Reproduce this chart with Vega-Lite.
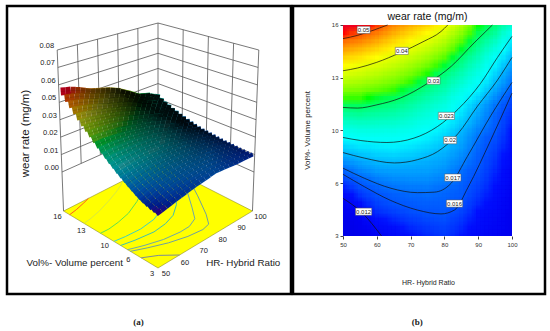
{"$schema":"https://vega.github.io/schema/vega-lite/v6.json","background":"white","padding":{"left":5,"top":4,"right":0,"bottom":0},"spacing":-2,"config":{"view":{"stroke":"black","strokeWidth":2.5},"font":"Liberation Sans","axis":{"grid":false}},
"datasets":{
"cont":[
{"l":0.05,"h":50,"v":15.16},{"l":0.05,"h":54.3,"v":15.36},{"l":0.05,"h":59.3,"v":15.7},{"l":0.05,"h":63.2,"v":16},
{"l":0.04,"h":50,"v":13.18},{"l":0.04,"h":54.3,"v":13.35},{"l":0.04,"h":60,"v":13.7},{"l":0.04,"h":67,"v":14.3},{"l":0.04,"h":74,"v":15},{"l":0.04,"h":79,"v":15.6},{"l":0.04,"h":81,"v":16},
{"l":0.03,"h":50,"v":10.92},{"l":0.03,"h":54.3,"v":10.88},{"l":0.03,"h":60,"v":11.08},{"l":0.03,"h":67,"v":11.5},{"l":0.03,"h":75,"v":12.4},{"l":0.03,"h":82,"v":13.45},{"l":0.03,"h":88.8,"v":14.9},{"l":0.03,"h":94.2,"v":16},
{"l":0.023,"h":50,"v":9.07},{"l":0.023,"h":55.3,"v":8.88},{"l":0.023,"h":63,"v":8.76},{"l":0.023,"h":71,"v":9.03},{"l":0.023,"h":78,"v":9.75},{"l":0.023,"h":84,"v":10.8},{"l":0.023,"h":90.7,"v":12.4},{"l":0.023,"h":95.7,"v":14},{"l":0.023,"h":100,"v":15.3},
{"l":0.02,"h":50,"v":8.14},{"l":0.02,"h":56.3,"v":7.8},{"l":0.02,"h":65.2,"v":7.5},{"l":0.02,"h":72,"v":7.7},{"l":0.02,"h":78,"v":8.2},{"l":0.02,"h":84,"v":9.3},{"l":0.02,"h":89.8,"v":11},{"l":0.02,"h":95.7,"v":12.6},{"l":0.02,"h":100,"v":14},
{"l":0.017,"h":50,"v":7.18},{"l":0.017,"h":56.3,"v":6.56},{"l":0.017,"h":64.2,"v":5.94},{"l":0.017,"h":72,"v":5.67},{"l":0.017,"h":77,"v":5.7},{"l":0.017,"h":82,"v":6.25},{"l":0.017,"h":86.8,"v":7.9},{"l":0.017,"h":93.7,"v":10.4},{"l":0.017,"h":100,"v":12.46},
{"l":0.016,"h":50,"v":6.8},{"l":0.016,"h":56.3,"v":6.04},{"l":0.016,"h":64,"v":5.2},{"l":0.016,"h":72,"v":4.6},{"l":0.016,"h":79,"v":4.36},{"l":0.016,"h":83,"v":4.6},{"l":0.016,"h":87,"v":6},{"l":0.016,"h":93.7,"v":8.9},{"l":0.016,"h":100,"v":11.8},
{"l":0.012,"h":50,"v":5.32},{"l":0.012,"h":55.8,"v":4.4},{"l":0.012,"h":61.4,"v":3}],
"grid":[
{"h":50,"v":3,"w":0.0095},{"h":50,"v":3.5,"w":0.01},{"h":50,"v":4,"w":0.0104},{"h":50,"v":4.5,"w":0.011},{"h":50,"v":5,"w":0.0116},{"h":50,"v":5.5,"w":0.0125},{"h":50,"v":6,"w":0.0138},{"h":50,"v":6.5,"w":0.0152},{"h":50,"v":7,"w":0.0165},{"h":50,"v":7.5,"w":0.018},{"h":50,"v":8,"w":0.0196},{"h":50,"v":8.5,"w":0.0211},{"h":50,"v":9,"w":0.0228},{"h":50,"v":9.5,"w":0.0246},{"h":50,"v":10,"w":0.0265},{"h":50,"v":10.5,"w":0.0284},{"h":50,"v":11,"w":0.0304},{"h":50,"v":11.5,"w":0.0326},{"h":50,"v":12,"w":0.0348},{"h":50,"v":12.5,"w":0.037},{"h":50,"v":13,"w":0.0392},{"h":50,"v":13.5,"w":0.0416},{"h":50,"v":14,"w":0.044},{"h":50,"v":14.5,"w":0.0467},{"h":50,"v":15,"w":0.0492},{"h":50,"v":15.5,"w":0.052},{"h":50,"v":16,"w":0.055},
{"h":52.5,"v":3,"w":0.01},{"h":52.5,"v":3.5,"w":0.0105},{"h":52.5,"v":4,"w":0.0109},{"h":52.5,"v":4.5,"w":0.0115},{"h":52.5,"v":5,"w":0.0124},{"h":52.5,"v":5.5,"w":0.0134},{"h":52.5,"v":6,"w":0.0147},{"h":52.5,"v":6.5,"w":0.0159},{"h":52.5,"v":7,"w":0.0171},{"h":52.5,"v":7.5,"w":0.0185},{"h":52.5,"v":8,"w":0.02},{"h":52.5,"v":8.5,"w":0.0215},{"h":52.5,"v":9,"w":0.0231},{"h":52.5,"v":9.5,"w":0.0248},{"h":52.5,"v":10,"w":0.0267},{"h":52.5,"v":10.5,"w":0.0285},{"h":52.5,"v":11,"w":0.0304},{"h":52.5,"v":11.5,"w":0.0325},{"h":52.5,"v":12,"w":0.0346},{"h":52.5,"v":12.5,"w":0.0367},{"h":52.5,"v":13,"w":0.0388},{"h":52.5,"v":13.5,"w":0.041},{"h":52.5,"v":14,"w":0.0435},{"h":52.5,"v":14.5,"w":0.0461},{"h":52.5,"v":15,"w":0.0486},{"h":52.5,"v":15.5,"w":0.0512},{"h":52.5,"v":16,"w":0.0542},
{"h":55,"v":3,"w":0.0105},{"h":55,"v":3.5,"w":0.011},{"h":55,"v":4,"w":0.0114},{"h":55,"v":4.5,"w":0.012},{"h":55,"v":5,"w":0.0132},{"h":55,"v":5.5,"w":0.0144},{"h":55,"v":6,"w":0.0156},{"h":55,"v":6.5,"w":0.0166},{"h":55,"v":7,"w":0.0178},{"h":55,"v":7.5,"w":0.019},{"h":55,"v":8,"w":0.0204},{"h":55,"v":8.5,"w":0.0219},{"h":55,"v":9,"w":0.0234},{"h":55,"v":9.5,"w":0.0251},{"h":55,"v":10,"w":0.0269},{"h":55,"v":10.5,"w":0.0287},{"h":55,"v":11,"w":0.0305},{"h":55,"v":11.5,"w":0.0325},{"h":55,"v":12,"w":0.0344},{"h":55,"v":12.5,"w":0.0364},{"h":55,"v":13,"w":0.0384},{"h":55,"v":13.5,"w":0.0405},{"h":55,"v":14,"w":0.043},{"h":55,"v":14.5,"w":0.0455},{"h":55,"v":15,"w":0.048},{"h":55,"v":15.5,"w":0.0505},{"h":55,"v":16,"w":0.0535},
{"h":57.5,"v":3,"w":0.0111},{"h":57.5,"v":3.5,"w":0.0117},{"h":57.5,"v":4,"w":0.0123},{"h":57.5,"v":4.5,"w":0.0131},{"h":57.5,"v":5,"w":0.0141},{"h":57.5,"v":5.5,"w":0.0151},{"h":57.5,"v":6,"w":0.0161},{"h":57.5,"v":6.5,"w":0.017},{"h":57.5,"v":7,"w":0.0182},{"h":57.5,"v":7.5,"w":0.0194},{"h":57.5,"v":8,"w":0.0207},{"h":57.5,"v":8.5,"w":0.022},{"h":57.5,"v":9,"w":0.0235},{"h":57.5,"v":9.5,"w":0.0251},{"h":57.5,"v":10,"w":0.0268},{"h":57.5,"v":10.5,"w":0.0284},{"h":57.5,"v":11,"w":0.0301},{"h":57.5,"v":11.5,"w":0.032},{"h":57.5,"v":12,"w":0.0339},{"h":57.5,"v":12.5,"w":0.0359},{"h":57.5,"v":13,"w":0.0378},{"h":57.5,"v":13.5,"w":0.0398},{"h":57.5,"v":14,"w":0.0422},{"h":57.5,"v":14.5,"w":0.0446},{"h":57.5,"v":15,"w":0.0471},{"h":57.5,"v":15.5,"w":0.0495},{"h":57.5,"v":16,"w":0.0522},
{"h":60,"v":3,"w":0.0117},{"h":60,"v":3.5,"w":0.0125},{"h":60,"v":4,"w":0.0133},{"h":60,"v":4.5,"w":0.0142},{"h":60,"v":5,"w":0.015},{"h":60,"v":5.5,"w":0.0158},{"h":60,"v":6,"w":0.0166},{"h":60,"v":6.5,"w":0.0175},{"h":60,"v":7,"w":0.0187},{"h":60,"v":7.5,"w":0.0198},{"h":60,"v":8,"w":0.021},{"h":60,"v":8.5,"w":0.0222},{"h":60,"v":9,"w":0.0236},{"h":60,"v":9.5,"w":0.0251},{"h":60,"v":10,"w":0.0267},{"h":60,"v":10.5,"w":0.0282},{"h":60,"v":11,"w":0.0298},{"h":60,"v":11.5,"w":0.0316},{"h":60,"v":12,"w":0.0335},{"h":60,"v":12.5,"w":0.0354},{"h":60,"v":13,"w":0.0373},{"h":60,"v":13.5,"w":0.0392},{"h":60,"v":14,"w":0.0414},{"h":60,"v":14.5,"w":0.0438},{"h":60,"v":15,"w":0.0462},{"h":60,"v":15.5,"w":0.0486},{"h":60,"v":16,"w":0.051},
{"h":62.5,"v":3,"w":0.0121},{"h":62.5,"v":3.5,"w":0.0128},{"h":62.5,"v":4,"w":0.0136},{"h":62.5,"v":4.5,"w":0.0146},{"h":62.5,"v":5,"w":0.0154},{"h":62.5,"v":5.5,"w":0.0161},{"h":62.5,"v":6,"w":0.0169},{"h":62.5,"v":6.5,"w":0.0178},{"h":62.5,"v":7,"w":0.0188},{"h":62.5,"v":7.5,"w":0.0199},{"h":62.5,"v":8,"w":0.0211},{"h":62.5,"v":8.5,"w":0.0223},{"h":62.5,"v":9,"w":0.0236},{"h":62.5,"v":9.5,"w":0.025},{"h":62.5,"v":10,"w":0.0265},{"h":62.5,"v":10.5,"w":0.028},{"h":62.5,"v":11,"w":0.0295},{"h":62.5,"v":11.5,"w":0.0311},{"h":62.5,"v":12,"w":0.033},{"h":62.5,"v":12.5,"w":0.0348},{"h":62.5,"v":13,"w":0.0366},{"h":62.5,"v":13.5,"w":0.0385},{"h":62.5,"v":14,"w":0.0405},{"h":62.5,"v":14.5,"w":0.0428},{"h":62.5,"v":15,"w":0.045},{"h":62.5,"v":15.5,"w":0.0473},{"h":62.5,"v":16,"w":0.0495},
{"h":65,"v":3,"w":0.0126},{"h":65,"v":3.5,"w":0.0132},{"h":65,"v":4,"w":0.014},{"h":65,"v":4.5,"w":0.015},{"h":65,"v":5,"w":0.0159},{"h":65,"v":5.5,"w":0.0165},{"h":65,"v":6,"w":0.0172},{"h":65,"v":6.5,"w":0.0181},{"h":65,"v":7,"w":0.019},{"h":65,"v":7.5,"w":0.02},{"h":65,"v":8,"w":0.0212},{"h":65,"v":8.5,"w":0.0224},{"h":65,"v":9,"w":0.0237},{"h":65,"v":9.5,"w":0.025},{"h":65,"v":10,"w":0.0264},{"h":65,"v":10.5,"w":0.0278},{"h":65,"v":11,"w":0.0292},{"h":65,"v":11.5,"w":0.0307},{"h":65,"v":12,"w":0.0325},{"h":65,"v":12.5,"w":0.0343},{"h":65,"v":13,"w":0.036},{"h":65,"v":13.5,"w":0.0379},{"h":65,"v":14,"w":0.0396},{"h":65,"v":14.5,"w":0.0418},{"h":65,"v":15,"w":0.0438},{"h":65,"v":15.5,"w":0.046},{"h":65,"v":16,"w":0.048},
{"h":67.5,"v":3,"w":0.013},{"h":67.5,"v":3.5,"w":0.0136},{"h":67.5,"v":4,"w":0.0144},{"h":67.5,"v":4.5,"w":0.0153},{"h":67.5,"v":5,"w":0.0161},{"h":67.5,"v":5.5,"w":0.0166},{"h":67.5,"v":6,"w":0.0173},{"h":67.5,"v":6.5,"w":0.0181},{"h":67.5,"v":7,"w":0.019},{"h":67.5,"v":7.5,"w":0.0199},{"h":67.5,"v":8,"w":0.021},{"h":67.5,"v":8.5,"w":0.0222},{"h":67.5,"v":9,"w":0.0234},{"h":67.5,"v":9.5,"w":0.0246},{"h":67.5,"v":10,"w":0.026},{"h":67.5,"v":10.5,"w":0.0273},{"h":67.5,"v":11,"w":0.0286},{"h":67.5,"v":11.5,"w":0.03},{"h":67.5,"v":12,"w":0.0316},{"h":67.5,"v":12.5,"w":0.0334},{"h":67.5,"v":13,"w":0.0351},{"h":67.5,"v":13.5,"w":0.0369},{"h":67.5,"v":14,"w":0.0387},{"h":67.5,"v":14.5,"w":0.0407},{"h":67.5,"v":15,"w":0.0427},{"h":67.5,"v":15.5,"w":0.0449},{"h":67.5,"v":16,"w":0.047},
{"h":70,"v":3,"w":0.0134},{"h":70,"v":3.5,"w":0.014},{"h":70,"v":4,"w":0.0148},{"h":70,"v":4.5,"w":0.0156},{"h":70,"v":5,"w":0.0163},{"h":70,"v":5.5,"w":0.0168},{"h":70,"v":6,"w":0.0174},{"h":70,"v":6.5,"w":0.0182},{"h":70,"v":7,"w":0.019},{"h":70,"v":7.5,"w":0.0198},{"h":70,"v":8,"w":0.0209},{"h":70,"v":8.5,"w":0.022},{"h":70,"v":9,"w":0.0231},{"h":70,"v":9.5,"w":0.0243},{"h":70,"v":10,"w":0.0256},{"h":70,"v":10.5,"w":0.0268},{"h":70,"v":11,"w":0.028},{"h":70,"v":11.5,"w":0.0293},{"h":70,"v":12,"w":0.0307},{"h":70,"v":12.5,"w":0.0325},{"h":70,"v":13,"w":0.0343},{"h":70,"v":13.5,"w":0.036},{"h":70,"v":14,"w":0.0379},{"h":70,"v":14.5,"w":0.0396},{"h":70,"v":15,"w":0.0417},{"h":70,"v":15.5,"w":0.0438},{"h":70,"v":16,"w":0.046},
{"h":72.5,"v":3,"w":0.0137},{"h":72.5,"v":3.5,"w":0.0143},{"h":72.5,"v":4,"w":0.015},{"h":72.5,"v":4.5,"w":0.0158},{"h":72.5,"v":5,"w":0.0164},{"h":72.5,"v":5.5,"w":0.0168},{"h":72.5,"v":6,"w":0.0174},{"h":72.5,"v":6.5,"w":0.0182},{"h":72.5,"v":7,"w":0.0189},{"h":72.5,"v":7.5,"w":0.0196},{"h":72.5,"v":8,"w":0.0206},{"h":72.5,"v":8.5,"w":0.0216},{"h":72.5,"v":9,"w":0.0227},{"h":72.5,"v":9.5,"w":0.0238},{"h":72.5,"v":10,"w":0.025},{"h":72.5,"v":10.5,"w":0.0262},{"h":72.5,"v":11,"w":0.0273},{"h":72.5,"v":11.5,"w":0.0286},{"h":72.5,"v":12,"w":0.0299},{"h":72.5,"v":12.5,"w":0.0314},{"h":72.5,"v":13,"w":0.0332},{"h":72.5,"v":13.5,"w":0.035},{"h":72.5,"v":14,"w":0.0369},{"h":72.5,"v":14.5,"w":0.0387},{"h":72.5,"v":15,"w":0.0406},{"h":72.5,"v":15.5,"w":0.0427},{"h":72.5,"v":16,"w":0.045},
{"h":75,"v":3,"w":0.014},{"h":75,"v":3.5,"w":0.0146},{"h":75,"v":4,"w":0.0153},{"h":75,"v":4.5,"w":0.016},{"h":75,"v":5,"w":0.0165},{"h":75,"v":5.5,"w":0.0169},{"h":75,"v":6,"w":0.0175},{"h":75,"v":6.5,"w":0.0182},{"h":75,"v":7,"w":0.0189},{"h":75,"v":7.5,"w":0.0195},{"h":75,"v":8,"w":0.0203},{"h":75,"v":8.5,"w":0.0213},{"h":75,"v":9,"w":0.0223},{"h":75,"v":9.5,"w":0.0233},{"h":75,"v":10,"w":0.0245},{"h":75,"v":10.5,"w":0.0256},{"h":75,"v":11,"w":0.0267},{"h":75,"v":11.5,"w":0.0279},{"h":75,"v":12,"w":0.0291},{"h":75,"v":12.5,"w":0.0304},{"h":75,"v":13,"w":0.0322},{"h":75,"v":13.5,"w":0.034},{"h":75,"v":14,"w":0.0359},{"h":75,"v":14.5,"w":0.0378},{"h":75,"v":15,"w":0.0396},{"h":75,"v":15.5,"w":0.0416},{"h":75,"v":16,"w":0.044},
{"h":77.5,"v":3,"w":0.0143},{"h":77.5,"v":3.5,"w":0.0148},{"h":77.5,"v":4,"w":0.0154},{"h":77.5,"v":4.5,"w":0.016},{"h":77.5,"v":5,"w":0.0164},{"h":77.5,"v":5.5,"w":0.0168},{"h":77.5,"v":6,"w":0.0172},{"h":77.5,"v":6.5,"w":0.0179},{"h":77.5,"v":7,"w":0.0186},{"h":77.5,"v":7.5,"w":0.0192},{"h":77.5,"v":8,"w":0.0199},{"h":77.5,"v":8.5,"w":0.0208},{"h":77.5,"v":9,"w":0.0217},{"h":77.5,"v":9.5,"w":0.0226},{"h":77.5,"v":10,"w":0.0237},{"h":77.5,"v":10.5,"w":0.0248},{"h":77.5,"v":11,"w":0.0259},{"h":77.5,"v":11.5,"w":0.0271},{"h":77.5,"v":12,"w":0.0283},{"h":77.5,"v":12.5,"w":0.0295},{"h":77.5,"v":13,"w":0.031},{"h":77.5,"v":13.5,"w":0.0327},{"h":77.5,"v":14,"w":0.0346},{"h":77.5,"v":14.5,"w":0.0365},{"h":77.5,"v":15,"w":0.0383},{"h":77.5,"v":15.5,"w":0.0402},{"h":77.5,"v":16,"w":0.0425},
{"h":80,"v":3,"w":0.0146},{"h":80,"v":3.5,"w":0.015},{"h":80,"v":4,"w":0.0156},{"h":80,"v":4.5,"w":0.0161},{"h":80,"v":5,"w":0.0164},{"h":80,"v":5.5,"w":0.0167},{"h":80,"v":6,"w":0.017},{"h":80,"v":6.5,"w":0.0177},{"h":80,"v":7,"w":0.0183},{"h":80,"v":7.5,"w":0.0189},{"h":80,"v":8,"w":0.0196},{"h":80,"v":8.5,"w":0.0203},{"h":80,"v":9,"w":0.0211},{"h":80,"v":9.5,"w":0.022},{"h":80,"v":10,"w":0.0229},{"h":80,"v":10.5,"w":0.024},{"h":80,"v":11,"w":0.0252},{"h":80,"v":11.5,"w":0.0263},{"h":80,"v":12,"w":0.0275},{"h":80,"v":12.5,"w":0.0286},{"h":80,"v":13,"w":0.0298},{"h":80,"v":13.5,"w":0.0315},{"h":80,"v":14,"w":0.0333},{"h":80,"v":14.5,"w":0.0352},{"h":80,"v":15,"w":0.037},{"h":80,"v":15.5,"w":0.0389},{"h":80,"v":16,"w":0.041},
{"h":82.5,"v":3,"w":0.0141},{"h":82.5,"v":3.5,"w":0.0145},{"h":82.5,"v":4,"w":0.015},{"h":82.5,"v":4.5,"w":0.0156},{"h":82.5,"v":5,"w":0.016},{"h":82.5,"v":5.5,"w":0.0164},{"h":82.5,"v":6,"w":0.0167},{"h":82.5,"v":6.5,"w":0.0172},{"h":82.5,"v":7,"w":0.0176},{"h":82.5,"v":7.5,"w":0.0182},{"h":82.5,"v":8,"w":0.0189},{"h":82.5,"v":8.5,"w":0.0195},{"h":82.5,"v":9,"w":0.0202},{"h":82.5,"v":9.5,"w":0.021},{"h":82.5,"v":10,"w":0.0219},{"h":82.5,"v":10.5,"w":0.0229},{"h":82.5,"v":11,"w":0.0239},{"h":82.5,"v":11.5,"w":0.025},{"h":82.5,"v":12,"w":0.0262},{"h":82.5,"v":12.5,"w":0.0274},{"h":82.5,"v":13,"w":0.0286},{"h":82.5,"v":13.5,"w":0.0301},{"h":82.5,"v":14,"w":0.0316},{"h":82.5,"v":14.5,"w":0.0334},{"h":82.5,"v":15,"w":0.0351},{"h":82.5,"v":15.5,"w":0.0369},{"h":82.5,"v":16,"w":0.0388},
{"h":85,"v":3,"w":0.0136},{"h":85,"v":3.5,"w":0.014},{"h":85,"v":4,"w":0.0145},{"h":85,"v":4.5,"w":0.0151},{"h":85,"v":5,"w":0.0157},{"h":85,"v":5.5,"w":0.0162},{"h":85,"v":6,"w":0.0164},{"h":85,"v":6.5,"w":0.0167},{"h":85,"v":7,"w":0.017},{"h":85,"v":7.5,"w":0.0176},{"h":85,"v":8,"w":0.0182},{"h":85,"v":8.5,"w":0.0188},{"h":85,"v":9,"w":0.0194},{"h":85,"v":9.5,"w":0.02},{"h":85,"v":10,"w":0.0209},{"h":85,"v":10.5,"w":0.0218},{"h":85,"v":11,"w":0.0226},{"h":85,"v":11.5,"w":0.0238},{"h":85,"v":12,"w":0.025},{"h":85,"v":12.5,"w":0.0263},{"h":85,"v":13,"w":0.0275},{"h":85,"v":13.5,"w":0.0288},{"h":85,"v":14,"w":0.03},{"h":85,"v":14.5,"w":0.0317},{"h":85,"v":15,"w":0.0333},{"h":85,"v":15.5,"w":0.035},{"h":85,"v":16,"w":0.0367},
{"h":87.5,"v":3,"w":0.013},{"h":87.5,"v":3.5,"w":0.0134},{"h":87.5,"v":4,"w":0.0138},{"h":87.5,"v":4.5,"w":0.0143},{"h":87.5,"v":5,"w":0.0148},{"h":87.5,"v":5.5,"w":0.0153},{"h":87.5,"v":6,"w":0.0157},{"h":87.5,"v":6.5,"w":0.0161},{"h":87.5,"v":7,"w":0.0164},{"h":87.5,"v":7.5,"w":0.0169},{"h":87.5,"v":8,"w":0.0173},{"h":87.5,"v":8.5,"w":0.0178},{"h":87.5,"v":9,"w":0.0182},{"h":87.5,"v":9.5,"w":0.0188},{"h":87.5,"v":10,"w":0.0197},{"h":87.5,"v":10.5,"w":0.0205},{"h":87.5,"v":11,"w":0.0212},{"h":87.5,"v":11.5,"w":0.0225},{"h":87.5,"v":12,"w":0.0237},{"h":87.5,"v":12.5,"w":0.025},{"h":87.5,"v":13,"w":0.0262},{"h":87.5,"v":13.5,"w":0.0274},{"h":87.5,"v":14,"w":0.0286},{"h":87.5,"v":14.5,"w":0.0301},{"h":87.5,"v":15,"w":0.0314},{"h":87.5,"v":15.5,"w":0.0329},{"h":87.5,"v":16,"w":0.0343},
{"h":90,"v":3,"w":0.0125},{"h":90,"v":3.5,"w":0.0128},{"h":90,"v":4,"w":0.0131},{"h":90,"v":4.5,"w":0.0135},{"h":90,"v":5,"w":0.014},{"h":90,"v":5.5,"w":0.0145},{"h":90,"v":6,"w":0.015},{"h":90,"v":6.5,"w":0.0155},{"h":90,"v":7,"w":0.0159},{"h":90,"v":7.5,"w":0.0162},{"h":90,"v":8,"w":0.0165},{"h":90,"v":8.5,"w":0.0168},{"h":90,"v":9,"w":0.0171},{"h":90,"v":9.5,"w":0.0177},{"h":90,"v":10,"w":0.0185},{"h":90,"v":10.5,"w":0.0192},{"h":90,"v":11,"w":0.0199},{"h":90,"v":11.5,"w":0.0212},{"h":90,"v":12,"w":0.0225},{"h":90,"v":12.5,"w":0.0237},{"h":90,"v":13,"w":0.0249},{"h":90,"v":13.5,"w":0.0261},{"h":90,"v":14,"w":0.0273},{"h":90,"v":14.5,"w":0.0285},{"h":90,"v":15,"w":0.0296},{"h":90,"v":15.5,"w":0.0308},{"h":90,"v":16,"w":0.032},
{"h":92.5,"v":3,"w":0.0121},{"h":92.5,"v":3.5,"w":0.0124},{"h":92.5,"v":4,"w":0.0126},{"h":92.5,"v":4.5,"w":0.013},{"h":92.5,"v":5,"w":0.0134},{"h":92.5,"v":5.5,"w":0.0138},{"h":92.5,"v":6,"w":0.0142},{"h":92.5,"v":6.5,"w":0.0146},{"h":92.5,"v":7,"w":0.0149},{"h":92.5,"v":7.5,"w":0.0152},{"h":92.5,"v":8,"w":0.0156},{"h":92.5,"v":8.5,"w":0.0159},{"h":92.5,"v":9,"w":0.0163},{"h":92.5,"v":9.5,"w":0.0169},{"h":92.5,"v":10,"w":0.0174},{"h":92.5,"v":10.5,"w":0.0179},{"h":92.5,"v":11,"w":0.0185},{"h":92.5,"v":11.5,"w":0.0196},{"h":92.5,"v":12,"w":0.0208},{"h":92.5,"v":12.5,"w":0.022},{"h":92.5,"v":13,"w":0.0231},{"h":92.5,"v":13.5,"w":0.0242},{"h":92.5,"v":14,"w":0.0255},{"h":92.5,"v":14.5,"w":0.0269},{"h":92.5,"v":15,"w":0.0282},{"h":92.5,"v":15.5,"w":0.0296},{"h":92.5,"v":16,"w":0.0308},
{"h":95,"v":3,"w":0.0118},{"h":95,"v":3.5,"w":0.012},{"h":95,"v":4,"w":0.0122},{"h":95,"v":4.5,"w":0.0125},{"h":95,"v":5,"w":0.0128},{"h":95,"v":5.5,"w":0.0131},{"h":95,"v":6,"w":0.0134},{"h":95,"v":6.5,"w":0.0137},{"h":95,"v":7,"w":0.014},{"h":95,"v":7.5,"w":0.0143},{"h":95,"v":8,"w":0.0147},{"h":95,"v":8.5,"w":0.0151},{"h":95,"v":9,"w":0.0156},{"h":95,"v":9.5,"w":0.0161},{"h":95,"v":10,"w":0.0164},{"h":95,"v":10.5,"w":0.0167},{"h":95,"v":11,"w":0.0172},{"h":95,"v":11.5,"w":0.0181},{"h":95,"v":12,"w":0.0192},{"h":95,"v":12.5,"w":0.0203},{"h":95,"v":13,"w":0.0213},{"h":95,"v":13.5,"w":0.0224},{"h":95,"v":14,"w":0.0237},{"h":95,"v":14.5,"w":0.0253},{"h":95,"v":15,"w":0.0269},{"h":95,"v":15.5,"w":0.0285},{"h":95,"v":16,"w":0.0297},
{"h":97.5,"v":3,"w":0.0114},{"h":97.5,"v":3.5,"w":0.0115},{"h":97.5,"v":4,"w":0.0116},{"h":97.5,"v":4.5,"w":0.0118},{"h":97.5,"v":5,"w":0.012},{"h":97.5,"v":5.5,"w":0.0123},{"h":97.5,"v":6,"w":0.0125},{"h":97.5,"v":6.5,"w":0.0128},{"h":97.5,"v":7,"w":0.013},{"h":97.5,"v":7.5,"w":0.0133},{"h":97.5,"v":8,"w":0.0136},{"h":97.5,"v":8.5,"w":0.014},{"h":97.5,"v":9,"w":0.0144},{"h":97.5,"v":9.5,"w":0.0148},{"h":97.5,"v":10,"w":0.0151},{"h":97.5,"v":10.5,"w":0.0155},{"h":97.5,"v":11,"w":0.016},{"h":97.5,"v":11.5,"w":0.0168},{"h":97.5,"v":12,"w":0.0177},{"h":97.5,"v":12.5,"w":0.0187},{"h":97.5,"v":13,"w":0.0196},{"h":97.5,"v":13.5,"w":0.0207},{"h":97.5,"v":14,"w":0.0218},{"h":97.5,"v":14.5,"w":0.0232},{"h":97.5,"v":15,"w":0.0246},{"h":97.5,"v":15.5,"w":0.0262},{"h":97.5,"v":16,"w":0.0278},
{"h":100,"v":3,"w":0.011},{"h":100,"v":3.5,"w":0.011},{"h":100,"v":4,"w":0.0111},{"h":100,"v":4.5,"w":0.0112},{"h":100,"v":5,"w":0.0113},{"h":100,"v":5.5,"w":0.0115},{"h":100,"v":6,"w":0.0117},{"h":100,"v":6.5,"w":0.0119},{"h":100,"v":7,"w":0.0121},{"h":100,"v":7.5,"w":0.0123},{"h":100,"v":8,"w":0.0126},{"h":100,"v":8.5,"w":0.0129},{"h":100,"v":9,"w":0.0132},{"h":100,"v":9.5,"w":0.0135},{"h":100,"v":10,"w":0.0139},{"h":100,"v":10.5,"w":0.0144},{"h":100,"v":11,"w":0.0149},{"h":100,"v":11.5,"w":0.0156},{"h":100,"v":12,"w":0.0163},{"h":100,"v":12.5,"w":0.0171},{"h":100,"v":13,"w":0.018},{"h":100,"v":13.5,"w":0.019},{"h":100,"v":14,"w":0.02},{"h":100,"v":14.5,"w":0.0212},{"h":100,"v":15,"w":0.0223},{"h":100,"v":15.5,"w":0.024},{"h":100,"v":16,"w":0.026}]},
"hconcat":[
{"width":284,"height":288,"layer":[
{"data":{"values":[
{"id":"a","h":50,"v":16,"w":0},{"id":"a","h":100,"v":16,"w":0},{"id":"a","h":100,"v":3,"w":0},
{"id":"b","h":50,"v":16,"w":0.01143},{"id":"b","h":100,"v":16,"w":0.01143},{"id":"b","h":100,"v":3,"w":0.01143},
{"id":"c","h":50,"v":16,"w":0.02286},{"id":"c","h":100,"v":16,"w":0.02286},{"id":"c","h":100,"v":3,"w":0.02286},
{"id":"d","h":50,"v":16,"w":0.03429},{"id":"d","h":100,"v":16,"w":0.03429},{"id":"d","h":100,"v":3,"w":0.03429},
{"id":"e","h":50,"v":16,"w":0.04571},{"id":"e","h":100,"v":16,"w":0.04571},{"id":"e","h":100,"v":3,"w":0.04571},
{"id":"f","h":50,"v":16,"w":0.05714},{"id":"f","h":100,"v":16,"w":0.05714},{"id":"f","h":100,"v":3,"w":0.05714},
{"id":"g","h":50,"v":16,"w":0.06857},{"id":"g","h":100,"v":16,"w":0.06857},{"id":"g","h":100,"v":3,"w":0.06857},
{"id":"i","h":50,"v":16,"w":0.08},{"id":"i","h":100,"v":16,"w":0.08},{"id":"i","h":100,"v":3,"w":0.08},
{"id":"j","h":50,"v":16,"w":-0.0256},{"id":"j","h":50,"v":16,"w":0.08},
{"id":"k","h":60,"v":16,"w":0},{"id":"k","h":60,"v":16,"w":0.08},
{"id":"l","h":70,"v":16,"w":0},{"id":"l","h":70,"v":16,"w":0.08},
{"id":"m","h":80,"v":16,"w":0},{"id":"m","h":80,"v":16,"w":0.08},
{"id":"n","h":90,"v":16,"w":0},{"id":"n","h":90,"v":16,"w":0.08},
{"id":"o","h":100,"v":16,"w":0},{"id":"o","h":100,"v":16,"w":0.08},
{"id":"p","h":100,"v":12.75,"w":0},{"id":"p","h":100,"v":12.75,"w":0.08},
{"id":"q","h":100,"v":9.5,"w":0},{"id":"q","h":100,"v":9.5,"w":0.08},
{"id":"r","h":100,"v":6.25,"w":0},{"id":"r","h":100,"v":6.25,"w":0.08},
{"id":"s","h":100,"v":3,"w":-0.0256},{"id":"s","h":100,"v":3,"w":0.08}]},
"transform":[{"calculate":"(datum.h-50)/50","as":"a"},{"calculate":"(datum.v-3)/13","as":"b"},{"calculate":"158+(datum.a-datum.b)*(96+60*datum.w)","as":"X"},{"calculate":"229.6-57.6*datum.a-57.6*datum.b+14.6*datum.a*datum.b-(120+2*datum.a+2*datum.b-18*datum.a*datum.b)*datum.w/0.08","as":"Y"}],
"mark":{"type":"line","stroke":"#555555","strokeWidth":0.8},
"encoding":{"detail":{"field":"id"},
"x":{"field":"X","type":"quantitative","scale":{"domain":[7,291],"nice":false,"zero":false},"axis":{"title":"(a)","labels":false,"ticks":false,"domain":false,"titleFont":"Liberation Serif","titleFontSize":9,"titleFontWeight":"bold","titleColor":"#222222","titleX":131,"titleY":23}},
"y":{"field":"Y","type":"quantitative","scale":{"domain":[294,6],"nice":false,"zero":false},"axis":{"title":"wear rate (mg/m)","labels":false,"ticks":false,"domain":false,"titleFontSize":11.5,"titleFontWeight":"normal","titleColor":"#222222","titleX":23,"titleY":127}}}},
{"data":{"values":[{"h":50,"v":16,"hu":50,"vu":16},{"h":50,"v":3,"hu":100,"vu":16},{"h":100,"v":3,"hu":100,"vu":3}]},
"transform":[{"calculate":"(datum.h-50)/50","as":"a"},{"calculate":"(datum.v-3)/13","as":"b"},{"calculate":"(datum.hu-50)/50","as":"au"},{"calculate":"(datum.vu-3)/13","as":"bu"},{"calculate":"158+(datum.a-datum.b)*94.46","as":"X"},{"calculate":"229.6-57.6*datum.a-57.6*datum.b+14.6*datum.a*datum.b+0.32*(120+2*datum.a+2*datum.b-18*datum.a*datum.b)","as":"Y"},{"calculate":"229.6-57.6*datum.au-57.6*datum.bu+14.6*datum.au*datum.bu+0.32*(120+2*datum.au+2*datum.bu-18*datum.au*datum.bu)","as":"Yu"}],
"mark":{"type":"area","color":"#ffff00","stroke":"#77771a","strokeWidth":0.5},
"encoding":{"x":{"field":"X","type":"quantitative"},"y":{"field":"Y","type":"quantitative"},"y2":{"field":"Yu"}}},
{"data":{"name":"cont"},
"transform":[{"calculate":"(datum.h-50)/50","as":"a"},{"calculate":"(datum.v-3)/13","as":"b"},{"calculate":"158+(datum.a-datum.b)*94.46","as":"X"},{"calculate":"229.6-57.6*datum.a-57.6*datum.b+14.6*datum.a*datum.b+0.32*(120+2*datum.a+2*datum.b-18*datum.a*datum.b)","as":"Y"}],
"mark":{"type":"line","interpolate":"linear","strokeWidth":1},
"encoding":{"x":{"field":"X","type":"quantitative"},"y":{"field":"Y","type":"quantitative"},"order":{"field":"h","type":"quantitative"},
"color":{"field":"l","type":"ordinal","legend":null,"scale":{"domain":[0.012,0.016,0.017,0.02,0.023,0.03,0.04,0.05],"range":["#7c8c98","#6fa0a0","#6fa8a8","#40c0b0","#40d0c0","#60e050","#d8e840","#ff5a20"]}}}},
{"data":{"name":"grid"},
"transform":[{"window":[{"op":"lead","field":"w","as":"wr"}],"groupby":["v"],"sort":[{"field":"h","order":"ascending"}]},{"window":[{"op":"lead","field":"w","as":"wt"},{"op":"lead","field":"wr","as":"wrt"}],"groupby":["h"],"sort":[{"field":"v","order":"ascending"}]},{"filter":"isValid(datum.wr)&&isValid(datum.wt)&&isValid(datum.wrt)"},
{"calculate":"(datum.h-50)/50","as":"a"},{"calculate":"(datum.v+0.25-3)/13","as":"b"},{"calculate":"datum.a+0.05","as":"a2"},{"calculate":"(datum.w+datum.wt)/2","as":"w1"},{"calculate":"(datum.wr+datum.wrt)/2","as":"w2"},{"calculate":"(datum.w1+datum.w2)/2","as":"c"},{"calculate":"datum.a+datum.b","as":"k"},
{"calculate":"158+(datum.a-datum.b)*(96+60*datum.w1)","as":"X"},{"calculate":"229.6-57.6*datum.a-57.6*datum.b+14.6*datum.a*datum.b-(120+2*datum.a+2*datum.b-18*datum.a*datum.b)*datum.w1/0.08","as":"Y"},
{"calculate":"158+(datum.a2-datum.b)*(96+60*datum.w2)","as":"X2"},{"calculate":"229.6-57.6*datum.a2-57.6*datum.b+14.6*datum.a2*datum.b-(120+2*datum.a2+2*datum.b-18*datum.a2*datum.b)*datum.w2/0.08","as":"Y2"},
{"calculate":"-(96+60*datum.w1)*0.03846","as":"dxb"},{"calculate":"-(57.6-14.6*datum.a)*0.03846-120*(datum.wt-datum.w)/0.08","as":"dyb"},
{"calculate":"abs((datum.X2-datum.X)*datum.dyb-(datum.Y2-datum.Y)*datum.dxb)/sqrt(pow(datum.X2-datum.X,2)+pow(datum.Y2-datum.Y,2))","as":"th"},{"calculate":"datum.th+0.9","as":"thf"},
{"calculate":"clamp(0.02+1.35*datum.a*datum.b+0.12*datum.a,0,0.9)","as":"sh"}],
"layer":[
{"mark":{"type":"rule","strokeCap":"butt"},
"encoding":{"x":{"field":"X","type":"quantitative"},"y":{"field":"Y","type":"quantitative"},"x2":{"field":"X2"},"y2":{"field":"Y2"},"order":{"field":"k","type":"quantitative","sort":"descending"},"strokeWidth":{"field":"thf","type":"quantitative","scale":null,"legend":null},
"color":{"field":"c","type":"quantitative","legend":null,"scale":{"domain":[0.0105,0.0225,0.032,0.0415,0.052],"range":["#14148a","#1c9498","#169a20","#96961a","#b41212"]}}}},
{"mark":{"type":"rule","strokeCap":"butt","color":"black"},
"encoding":{"x":{"field":"X","type":"quantitative"},"y":{"field":"Y","type":"quantitative"},"x2":{"field":"X2"},"y2":{"field":"Y2"},"strokeWidth":{"field":"th","type":"quantitative","scale":null,"legend":null},"opacity":{"field":"sh","type":"quantitative","scale":null,"legend":null}}},
{"mark":{"type":"rule","strokeCap":"butt","color":"black","strokeWidth":0.5,"opacity":0.22},
"encoding":{"x":{"field":"X","type":"quantitative"},"y":{"field":"Y","type":"quantitative"},"x2":{"field":"X2"},"y2":{"field":"Y2"}}}]},
{"data":{"values":[{"t":"0.08","w":0.08},{"t":"0.07","w":0.06857},{"t":"0.06","w":0.05714},{"t":"0.05","w":0.04571},{"t":"0.03","w":0.03429},{"t":"0.02","w":0.02286},{"t":"0.01","w":0.01143},{"t":"0.00","w":0}]},
"transform":[{"calculate":"158-(96+60*datum.w)","as":"X"},{"calculate":"172-122*datum.w/0.08","as":"Y"}],
"mark":{"type":"text","align":"right","dx":-3,"dy":-4,"fontSize":7.5,"color":"#222222"},
"encoding":{"x":{"field":"X","type":"quantitative"},"y":{"field":"Y","type":"quantitative"},"text":{"field":"t"}}},
{"data":{"values":[{"t":"16","v":16},{"t":"13","v":12.75},{"t":"10","v":9.5},{"t":"6","v":6.25},{"t":"3","v":3}]},
"transform":[{"calculate":"(datum.v-3)/13","as":"b"},{"calculate":"158-datum.b*94.46","as":"X"},{"calculate":"268-57*datum.b","as":"Y"}],
"mark":{"type":"text","dx":-6,"dy":6,"fontSize":7.5,"color":"#222222"},
"encoding":{"x":{"field":"X","type":"quantitative"},"y":{"field":"Y","type":"quantitative"},"text":{"field":"t"}}},
{"data":{"values":[{"t":"50","h":50},{"t":"60","h":60},{"t":"70","h":70},{"t":"80","h":80},{"t":"90","h":90},{"t":"100","h":100}]},
"transform":[{"calculate":"(datum.h-50)/50","as":"a"},{"calculate":"158+datum.a*94.46","as":"X"},{"calculate":"268-57*datum.a","as":"Y"}],
"mark":{"type":"text","dx":8,"dy":6,"fontSize":7.5,"color":"#222222"},
"encoding":{"x":{"field":"X","type":"quantitative"},"y":{"field":"Y","type":"quantitative"},"text":{"field":"t"}}},
{"data":{"values":[{"t":"Vol%- Volume percent","v":9.5}]},
"transform":[{"calculate":"(datum.v-3)/13","as":"b"},{"calculate":"158-datum.b*94.46","as":"X"},{"calculate":"268-57*datum.b","as":"Y"}],
"mark":{"type":"text","dx":-36,"dy":23,"fontSize":9.8,"color":"#222222"},
"encoding":{"x":{"field":"X","type":"quantitative"},"y":{"field":"Y","type":"quantitative"},"text":{"field":"t"}}},
{"data":{"values":[{"t":"HR- Hybrid Ratio","h":75}]},
"transform":[{"calculate":"(datum.h-50)/50","as":"a"},{"calculate":"158+datum.a*94.46","as":"X"},{"calculate":"268-57*datum.a","as":"Y"}],
"mark":{"type":"text","dx":38,"dy":23,"fontSize":9.8,"color":"#222222"},
"encoding":{"x":{"field":"X","type":"quantitative"},"y":{"field":"Y","type":"quantitative"},"text":{"field":"t"}}}
]},
{"width":252,"height":288,"encoding":{"color":{"field":"w","type":"quantitative","legend":null,"scale":{"domain":[0.011,0.0135,0.0165,0.02,0.023,0.032,0.0415,0.052],"range":["#0000f0","#0010ff","#0060ff","#00b8ff","#00ffff","#00ff00","#ffff00","#ff0000"]}}},"layer":[
{"data":{"name":"grid"},
"transform":[{"calculate":"max(50,datum.h-1.25)","as":"h1"},{"calculate":"min(100,datum.h+1.45)","as":"h2"},{"calculate":"max(3,datum.v-0.25)","as":"v1"},{"calculate":"min(16,datum.v+0.3)","as":"v2"}],
"mark":{"type":"rect"},
"encoding":{"x":{"field":"h1","type":"quantitative","scale":{"domain":[35.21,109.77],"nice":false,"zero":false},"axis":{"values":[50,60,70,80,90,100],"offset":-58,"domain":false,"tickSize":3,"tickColor":"#444444","labelFontSize":6,"labelColor":"#333333","title":"HR- Hybrid Ratio","titleFontSize":7,"titleFontWeight":"normal","titleColor":"#222222","titleX":135,"titleY":42}},"x2":{"field":"h2"},
"y":{"field":"v1","type":"quantitative","scale":{"domain":[-0.574,17.17],"nice":false,"zero":false},"axis":{"values":[3,6.25,9.5,12.75,16],"format":".0f","offset":-50,"domain":false,"tickSize":3,"tickColor":"#444444","labelFontSize":6,"labelColor":"#333333","title":"Vol%- Volume percent","titleFontSize":8,"titleFontWeight":"normal","titleColor":"#222222","titleX":-32,"titleY":124}},"y2":{"field":"v2"}}},
{"data":{"name":"grid"},
"transform":[{"calculate":"max(50,datum.h-0.625)","as":"h1"},{"calculate":"min(100,datum.h+1.875)","as":"h2"},{"calculate":"max(3,datum.v-0.125)","as":"v1"},{"calculate":"min(16,datum.v+0.375)","as":"v2"}],
"mark":{"type":"rect","opacity":0.5},"encoding":{"x":{"field":"h1","type":"quantitative"},"x2":{"field":"h2"},"y":{"field":"v1","type":"quantitative"},"y2":{"field":"v2"}}},
{"data":{"name":"grid"},
"transform":[{"calculate":"max(50,datum.h-1.875)","as":"h1"},{"calculate":"min(100,datum.h+0.625)","as":"h2"},{"calculate":"max(3,datum.v-0.375)","as":"v1"},{"calculate":"min(16,datum.v+0.125)","as":"v2"}],
"mark":{"type":"rect","opacity":0.33},"encoding":{"x":{"field":"h1","type":"quantitative"},"x2":{"field":"h2"},"y":{"field":"v1","type":"quantitative"},"y2":{"field":"v2"}}},
{"data":{"name":"grid"},
"transform":[{"calculate":"max(50,datum.h-0.625)","as":"h1"},{"calculate":"min(100,datum.h+1.875)","as":"h2"},{"calculate":"max(3,datum.v-0.375)","as":"v1"},{"calculate":"min(16,datum.v+0.125)","as":"v2"}],
"mark":{"type":"rect","opacity":0.25},"encoding":{"x":{"field":"h1","type":"quantitative"},"x2":{"field":"h2"},"y":{"field":"v1","type":"quantitative"},"y2":{"field":"v2"}}},
{"data":{"name":"grid"},
"transform":[{"calculate":"max(50,datum.h-1.875)","as":"h1"},{"calculate":"min(100,datum.h+0.625)","as":"h2"},{"calculate":"max(3,datum.v-0.125)","as":"v1"},{"calculate":"min(16,datum.v+0.375)","as":"v2"}],
"mark":{"type":"rect","opacity":0.2},"encoding":{"x":{"field":"h1","type":"quantitative"},"x2":{"field":"h2"},"y":{"field":"v1","type":"quantitative"},"y2":{"field":"v2"}}},
{"data":{"name":"cont"},"mark":{"type":"line","interpolate":"monotone","color":"#111111","strokeWidth":0.7},
"encoding":{"color":{"value":"#111111"},"detail":{"field":"l"},"x":{"field":"h","type":"quantitative"},"y":{"field":"v","type":"quantitative"}}},
{"data":{"values":[{"t":"0.05","h":56.1,"v":15.7},{"t":"0.04","h":67.4,"v":14.4},{"t":"0.03","h":76.8,"v":12.57},{"t":"0.023","h":80.6,"v":10.4},{"t":"0.02","h":81.7,"v":8.9},{"t":"0.017","h":82.5,"v":6.6},{"t":"0.016","h":83,"v":5},{"t":"0.012","h":56.1,"v":4.5}]},
"transform":[{"calculate":"datum.h-length(datum.t)*0.48","as":"x1"},{"calculate":"datum.h+length(datum.t)*0.48","as":"x2"},{"calculate":"datum.v-0.22","as":"y1"},{"calculate":"datum.v+0.22","as":"y2"}],
"layer":[{"mark":{"type":"rect","stroke":"#555555","strokeWidth":0.5},"encoding":{"color":{"value":"white"},"x":{"field":"x1","type":"quantitative"},"x2":{"field":"x2"},"y":{"field":"y1","type":"quantitative"},"y2":{"field":"y2"}}},
{"mark":{"type":"text","fontSize":6},"encoding":{"color":{"value":"#222222"},"x":{"field":"h","type":"quantitative"},"y":{"field":"v","type":"quantitative"},"text":{"field":"t"}}}]},
{"data":{"values":[{"t":"wear rate (mg/m)","h":75,"v":16.5}]},"mark":{"type":"text","fontSize":10.5},
"encoding":{"color":{"value":"#111111"},"x":{"field":"h","type":"quantitative"},"y":{"field":"v","type":"quantitative"},"text":{"field":"t"}}},
{"data":{"values":[{"t":"(b)","h":72,"v":-2.3}]},"mark":{"type":"text","fontSize":9,"fontWeight":"bold","font":"Liberation Serif"},
"encoding":{"color":{"value":"#222222"},"x":{"field":"h","type":"quantitative"},"y":{"field":"v","type":"quantitative"},"text":{"field":"t"}}}
]}
],"resolve":{"scale":{"color":"independent","x":"independent","y":"independent"}}}
